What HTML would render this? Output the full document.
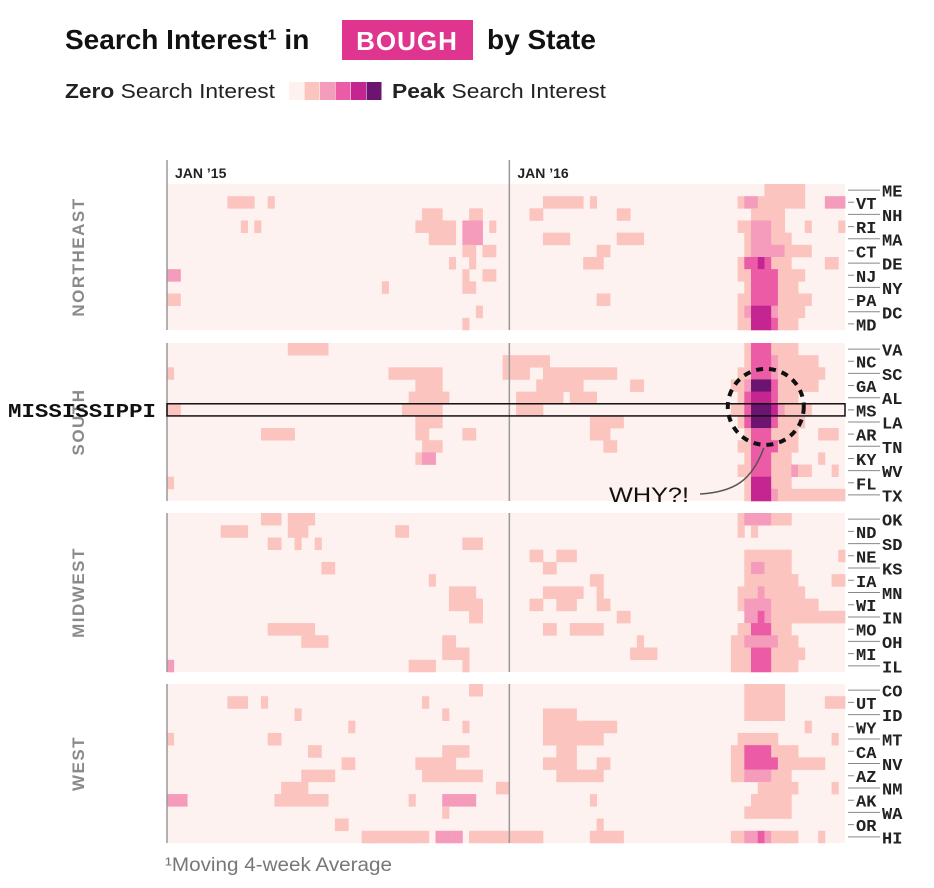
<!DOCTYPE html>
<html><head><meta charset="utf-8"><style>
body{margin:0;background:#fff;width:934px;height:888px;overflow:hidden;font-family:"Liberation Sans",sans-serif;}
svg{display:block}
</style></head><body>
<svg width="934" height="888" id="chart">
<g>
<text x="65" y="49" font-size="28" font-weight="bold" fill="#111">Search Interest¹ in</text>
<rect x="342" y="20" width="131" height="40" fill="#e0358e"/>
<text x="407" y="50" font-size="26" font-weight="bold" fill="#fff" text-anchor="middle" letter-spacing="1">BOUGH</text>
<text x="487" y="49" font-size="28" font-weight="bold" fill="#111">by State</text>
</g>
<g>
<text x="65" y="98" font-size="20" fill="#222" textLength="210" lengthAdjust="spacingAndGlyphs"><tspan font-weight="bold">Zero</tspan> Search Interest</text>
<g id="legsw"></g>
<text x="392" y="98" font-size="20" fill="#222" textLength="214" lengthAdjust="spacingAndGlyphs"><tspan font-weight="bold">Peak</tspan> Search Interest</text>
</g>
<g id="cells"></g>
<g id="overlay"></g>
<text x="165" y="871" font-size="19" fill="#777" textLength="227" lengthAdjust="spacingAndGlyphs">¹Moving 4-week Average</text>
</svg>
<script>
const groups = ["NORTHEAST","SOUTH","MIDWEST","WEST"];
const states = [
 ["ME","VT","NH","RI","MA","CT","DE","NJ","NY","PA","DC","MD"],
 ["VA","NC","SC","GA","AL","MS","LA","AR","TN","KY","WV","FL","TX"],
 ["OK","ND","SD","NE","KS","IA","MN","WI","IN","MO","OH","MI","IL"],
 ["CO","UT","ID","WY","MT","CA","NV","AZ","NM","AK","WA","OR","HI"]
];
const tickLabels = ["JAN \u201915","JAN \u201916"];
const tickWeeks = [0, 51];
const weeks = 101;
// per-state runs "startWeek-endWeek:level"
const northeast = [
 "89-94:1",
 "9-12:1 15:1 56-61:1 63:1 85-94:1 86-87:2 98-100:2",
 "38-40:1 45-46:1 54-55:1 67-68:1 87-91:1",
 "11:1 13:1 37-42:1 44-46:2 48:1 85-91:1 87-89:2 95:1 100:1",
 "39-42:1 44-46:2 56-59:1 67-70:1 86-92:1 87-89:2",
 "44-45:1 47-48:1 64-65:1 86-95:1 87-91:2",
 "42:1 45:1 62-64:1 85-92:1 86-89:3 88:4 98-99:1",
 "0-1:2 44:1 47-48:1 85-94:1 87-90:3",
 "32:1 44-45:1 86-93:1 87-90:3",
 "0-1:1 64-65:1 85-95:1 87-90:3",
 "46:1 85-94:1 86:2 87-89:4 90:2",
 "44:1 85-93:1 87-89:4 90:3"
];
const south = [
 "18-23:1 86-93:1 87-89:3",
 "50-56:1 86-96:1 87-89:3 90:2",
 "0:1 33-40:1 50-53:1 56-66:1 85-97:1 87-89:3 90:2",
 "37-40:1 55-61:1 69-70:1 84-96:1 86:2 87-89:5 90:3",
 "36-41:1 52-58:1 60-63:1 85-93:1 86:3 87-89:4 90:3",
 "0-1:1 35-40:1 52-55:1 84-95:1 86:3 87-89:5 90:4 91:2",
 "37-40:1 63-67:1 85-94:1 86:3 87-89:5 90:3",
 "14-18:1 37-38:1 44-45:1 63-65:1 86-93:1 87-89:3 97-99:1",
 "38-40:1 65-66:1 85-93:1 87-90:3",
 "37:1 38-39:2 86-92:1 87-89:3 97:1",
 "85-95:1 87-89:3 93:2 99:1",
 "0:1 86-92:1 87-89:4",
 "86-100:1 87-89:4 90:2"
];
const midwest = [
 "14-16:1 18-21:1 85-92:1 86-89:2",
 "8-11:1 18-20:1 34-35:1 85:1 87:1",
 "15-16:1 19:1 22:1 44-46:1",
 "54-55:1 58-60:1 86-92:1 100:1",
 "23-24:1 56-57:1 86-92:1 87-88:2",
 "39:1 63-64:1 86-93:1 99-100:1",
 "42-45:1 56-61:1 64:1 85-94:1 88:2",
 "42-46:1 54-55:1 58-60:1 64-65:1 85-96:1 86-89:2",
 "45-46:1 67-68:1 86-100:1 86-89:2 88:3",
 "15-21:1 56-57:1 60-64:1 85-92:1 87-89:3",
 "20-23:1 41-42:1 70:1 84-93:1 86-90:2",
 "41-44:1 69-72:1 84-94:1 87-89:3",
 "0:2 36-39:1 44:1 84-93:1 87-89:3"
];
const west = [
 "45-46:1 86-91:1",
 "9-11:1 14:1 38:1 86-91:1 98-100:1",
 "19:1 41:1 56-60:1 86-91:1",
 "27:1 44:1 56-66:1 95:1",
 "0:1 15-16:1 56-64:1 85-90:1 99:1",
 "21-22:1 41-44:1 58-60:1 84-93:1 86-89:3",
 "26-27:1 37-42:1 56-60:1 64-65:1 84-97:1 86-90:3",
 "20-24:1 38-46:1 58-64:1 84-92:1 86-89:2",
 "17-20:1 49-50:1 88-93:1 99:1",
 "0-2:2 16-23:1 36:1 41-45:2 63:1 87-92:1",
 "41:1 86-92:1",
 "25-26:1 64:1",
 "29-38:1 40-43:2 45-55:1 63-67:1 84-93:1 86-89:2 88:3 97:1"
];
const data = [northeast, south, midwest, west];
const colors = ["#fdf2ef","#fbc4be","#f59bbb","#ec5ba6","#c42590","#6b1470"];

const NS="http://www.w3.org/2000/svg";
const X0=167, X1=845, W=(X1-X0)/weeks;
const groupTop=[184,343,513,684], groupBot=[330,501,672,843];
const xScale = w => X0 + w*W;
function mk(t,a,p){const e=document.createElementNS(NS,t);for(const k in a)e.setAttribute(k,a[k]);p.appendChild(e);return e;}
const cellsG=document.getElementById('cells'), ov=document.getElementById('overlay');
const leg=document.getElementById('legsw');
for(let i=0;i<6;i++){
 const r=mk('rect',{x:289+i*15.5,y:82,width:15,height:18,fill:colors[i]},leg);
 
 
}
groups.forEach((g,gi)=>{
 const list=states[gi], n=list.length, top=groupTop[gi], h=(groupBot[gi]-top)/n;
 const bg=mk('rect',{x:X0,y:top,width:X1-X0,height:groupBot[gi]-top,fill:colors[0]},cellsG);
 
 
 list.forEach((st,ri)=>{
  const lv=new Array(weeks).fill(0);
  data[gi][ri].split(' ').forEach(run=>{
   const [rg,l]=run.split(':'); const [a,b]=rg.split('-').map(Number);
   for(let w=a;w<=(isNaN(b)?a:b);w++) lv[w]=+l;
  });
  const y=top+ri*h;
  lv.forEach((l,w)=>{ if(!l) return;
   const c=mk('rect',{x:xScale(w),y:y,width:W+0.4,height:h+0.3,fill:colors[l]},cellsG);
   
   
  });
  const cy=y+h/2;
  const ln=mk('line',{x1:848,x2:880,y1:cy,y2:cy,stroke:'#888','stroke-width':1},ov);
  
  
  const odd=ri%2===1;
  if(odd){mk('rect',{x:854,y:cy-8,width:26,height:15,fill:'#fff'},ov);}
  const t=mk('text',{x:odd?856:882,y:cy+6.5,'font-size':17,'font-weight':'bold','font-family':'"Liberation Mono",monospace',fill:'#222'},ov);
  t.textContent=st;
  
  
 });
 const gl=mk('text',{x:0,y:0,transform:`translate(84,${(top+groupBot[gi])/2}) rotate(-90)`,'text-anchor':'middle','font-size':17,'font-weight':'bold','letter-spacing':1.5,fill:'#8a8a8a'},ov);
 gl.textContent=g;
 
 
 tickWeeks.forEach(tw=>{
  const vl=mk('line',{x1:xScale(tw),x2:xScale(tw),y1:top-(gi===0?24:0),y2:groupBot[gi],stroke:'#999','stroke-width':1.5},ov);
  
  
 });
});
tickLabels.forEach((tl,i)=>{
 const t=mk('text',{x:xScale(tickWeeks[i])+8,y:178,'font-size':14,'font-weight':'bold',fill:'#222'},ov);
 t.textContent=tl;
 
 
});
// annotation
const msIdx=5, sh=(groupBot[1]-groupTop[1])/13, msY=groupTop[1]+msIdx*sh;
const box=mk('rect',{x:X0,y:msY,width:X1-X0,height:sh,fill:'none',stroke:'#111','stroke-width':1.5},ov);


const ml=mk('text',{x:8,y:msY+sh/2+7,'font-size':19,'font-weight':'bold','font-family':'"Liberation Mono",monospace',fill:'#111',textLength:148,lengthAdjust:'spacingAndGlyphs'},ov);
ml.textContent='MISSISSIPPI';


const pcx=xScale(89.2);
const circ=mk('circle',{cx:pcx,cy:msY+sh/2-3,r:38,fill:'none',stroke:'#111','stroke-width':4,'stroke-dasharray':'7 6'},ov);


const cv=mk('path',{d:`M700,494 C735,492 752,480 ${pcx-2},448`,fill:'none',stroke:'#555','stroke-width':1.5},ov);


const why=mk('text',{x:609,y:502,'font-size':21,fill:'#111',textLength:80,lengthAdjust:'spacingAndGlyphs'},ov);
why.textContent='WHY?!';


</script>
</body></html>
